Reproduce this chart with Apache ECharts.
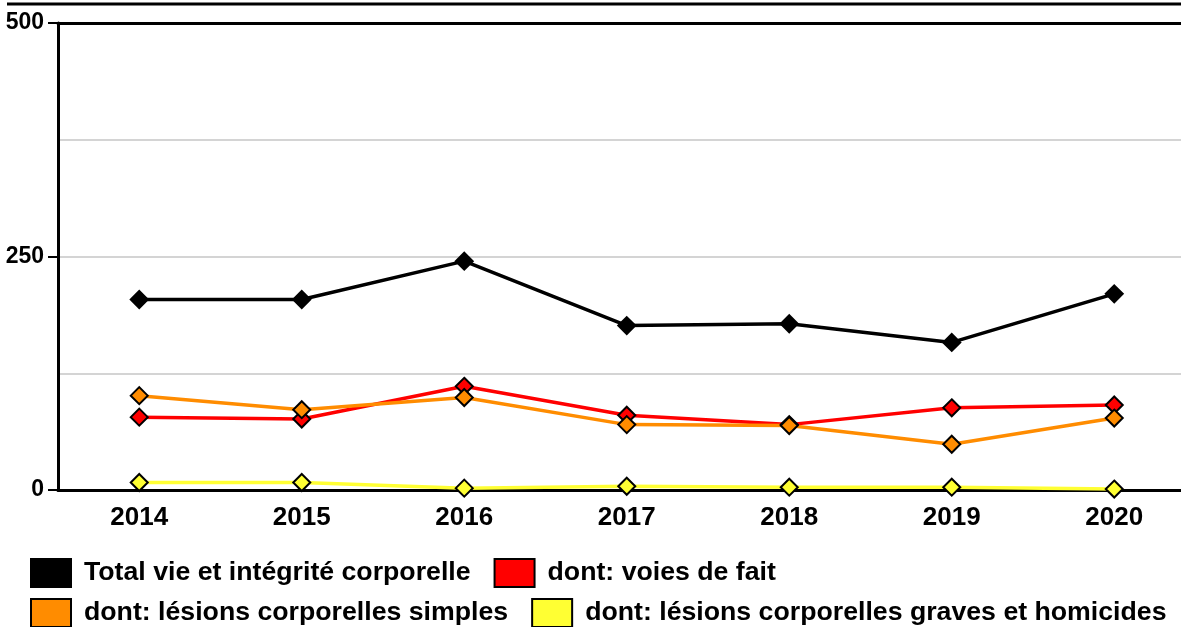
<!DOCTYPE html>
<html>
<head>
<meta charset="utf-8">
<script src="https://cdn.jsdelivr.net/npm/echarts@6/dist/echarts.min.js"></script>
<style>
  html, body { margin: 0; padding: 0; background: #fff; }
  #chart { width: 1181px; height: 627px; }
</style>
</head>
<body>
<div id="chart"></div>
<script>
// Years on the category axis
const years = ['2014', '2015', '2016', '2017', '2018', '2019', '2020'];

// Series names
const nameTotal = 'Total vie et intégrité corporelle';
const nameVoies = 'dont: voies de fait';
const nameSimples = 'dont: lésions corporelles simples';
const nameGraves = 'dont: lésions corporelles graves et homicides';

// Values per year
const totalValues = [204, 204, 245, 176, 178, 158, 210];
const voiesValues = [78, 76, 111, 80, 70, 88, 91];
const simplesValues = [101, 86, 99, 70, 69, 49, 77];
const gravesValues = [8, 8, 2, 4, 3, 3, 1];

// Labelled y-axis ticks
const yTicks = [0, 250, 500];

const FONT = '"Liberation Sans", Arial, sans-serif';

function lineSeries(name, values, color) {
  return {
    name: name,
    type: 'line',
    data: values,
    symbol: 'diamond',
    symbolSize: 17,
    lineStyle: { color: color, width: 3.5 },
    itemStyle: { color: color, borderColor: '#000', borderWidth: 2 },
    emphasis: { disabled: true },
    animation: false
  };
}

const legendCommon = {
  left: 25,
  orient: 'horizontal',
  icon: 'rect',
  itemWidth: 40,
  itemHeight: 28,
  itemGap: 23,
  selectedMode: false,
  textStyle: {
    fontFamily: FONT,
    fontWeight: 'bold',
    fontSize: 26.7,
    color: '#000',
    padding: [0, 0, 0, 8]
  }
};

const chart = echarts.init(document.getElementById('chart'), null, { renderer: 'canvas' });

chart.setOption({
  backgroundColor: '#fff',
  animation: false,
  // the last category runs past the right edge of the canvas
  grid: { left: 58, width: 1137.5, top: 23, height: 467, containLabel: false, outerBoundsMode: 'none' },
  xAxis: [
    {
      type: 'category',
      data: years,
      boundaryGap: true,
      axisLine: { lineStyle: { color: '#000', width: 3 } },
      axisTick: { show: false },
      axisLabel: {
        fontFamily: FONT,
        fontWeight: 'bold',
        fontSize: 26,
        color: '#000',
        margin: 15
      },
      splitLine: { show: false }
    },
    {
      type: 'category',
      data: years,
      position: 'top',
      axisLine: { lineStyle: { color: '#000', width: 3 } },
      axisTick: { show: false },
      axisLabel: { show: false },
      splitLine: { show: false }
    }
  ],
  yAxis: {
    type: 'value',
    min: 0,
    max: 500,
    interval: 250,
    axisLine: { show: true, lineStyle: { color: '#000', width: 3 } },
    axisTick: { show: true, length: 10, lineStyle: { color: '#000', width: 2 } },
    minorTick: { show: false, splitNumber: 2 },
    axisLabel: {
      fontFamily: FONT,
      fontWeight: 'bold',
      fontSize: 23,
      color: '#000',
      margin: 14,
      formatter: function (v) { return yTicks.indexOf(v) >= 0 ? String(v) : ''; }
    },
    splitLine: { show: true, lineStyle: { color: '#d4d4d4', width: 2 } },
    minorSplitLine: { show: true, lineStyle: { color: '#d4d4d4', width: 2 } }
  },
  legend: [
    Object.assign({}, legendCommon, { top: 553, data: [nameTotal, nameVoies] }),
    Object.assign({}, legendCommon, { top: 593, data: [nameSimples, nameGraves] })
  ],
  graphic: [
    {
      type: 'line',
      shape: { x1: 7, y1: 4, x2: 1181, y2: 4 },
      style: { stroke: '#000', lineWidth: 3 },
      silent: true
    }
  ],
  series: [
    lineSeries(nameTotal, totalValues, '#000000'),
    lineSeries(nameVoies, voiesValues, '#ff0000'),
    lineSeries(nameSimples, simplesValues, '#ff8c00'),
    lineSeries(nameGraves, gravesValues, '#ffff33')
  ]
});
</script>
</body>
</html>
